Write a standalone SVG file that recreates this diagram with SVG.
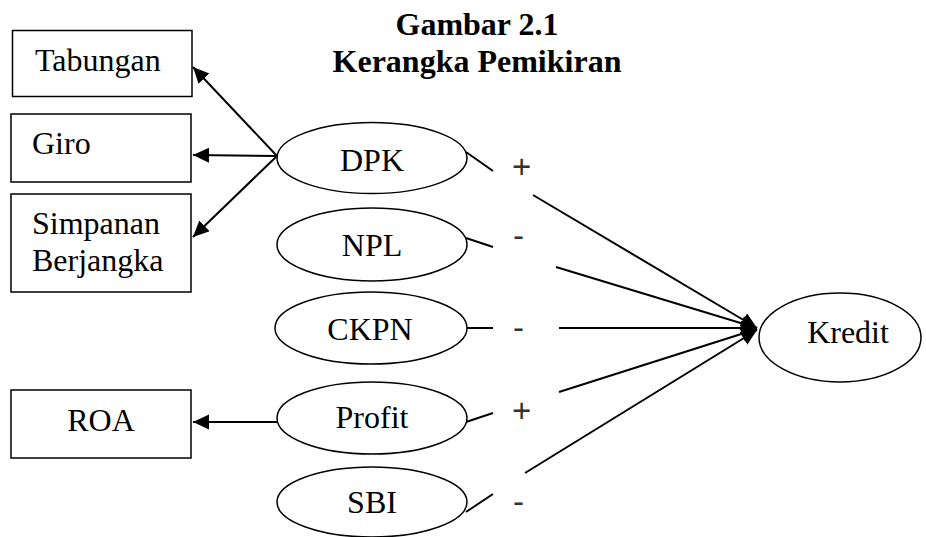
<svg xmlns="http://www.w3.org/2000/svg" width="926" height="537" viewBox="0 0 926 537">
<style>
  .box { fill: #fff; stroke: #000; stroke-width: 1.5; }
  .ell { fill: #fff; stroke: #000; stroke-width: 1.5; }
  .lbl { font-family: "Liberation Serif", "Times New Roman", serif; font-size: 32px; fill: #000; }
  .mid { text-anchor: middle; }
  .title { font-family: "Liberation Serif", "Times New Roman", serif; font-size: 32px; font-weight: bold; text-anchor: middle; fill: #000; }
  .edge { stroke: #000; stroke-width: 2; fill: none; }
  .sign { font-family: "Liberation Sans", Arial, sans-serif; font-size: 33px; fill: #333; }
</style>
<defs>
  <marker id="arr" markerUnits="userSpaceOnUse" markerWidth="20" markerHeight="20" refX="16" refY="7.5" orient="auto">
    <path d="M0,0 L16,7.5 L0,15 Z" fill="#000"/>
  </marker>
</defs>
<rect width="926" height="537" fill="#fff"/>
<g id="title">
  <text class="title" x="477" y="35">Gambar 2.1</text>
  <text class="title" x="477" y="72">Kerangka Pemikiran</text>
</g>
<g id="connectors">
  <line class="edge" x1="277" y1="156" x2="193" y2="67" marker-end="url(#arr)"/>
  <line class="edge" x1="277" y1="156" x2="193" y2="155" marker-end="url(#arr)"/>
  <line class="edge" x1="277" y1="156" x2="193" y2="237" marker-end="url(#arr)"/>
  <line class="edge" x1="277" y1="422" x2="193" y2="422" marker-end="url(#arr)"/>
  <line class="edge" x1="466" y1="152" x2="493" y2="171"/>
  <line class="edge" x1="533" y1="195" x2="757" y2="328" marker-end="url(#arr)"/>
  <line class="edge" x1="466" y1="238" x2="493" y2="247"/>
  <line class="edge" x1="556" y1="267" x2="757" y2="328" marker-end="url(#arr)"/>
  <line class="edge" x1="466" y1="328" x2="493" y2="328"/>
  <line class="edge" x1="559" y1="328" x2="757" y2="328" marker-end="url(#arr)"/>
  <line class="edge" x1="466" y1="422" x2="493" y2="413"/>
  <line class="edge" x1="559" y1="392" x2="757" y2="329" marker-end="url(#arr)"/>
  <line class="edge" x1="466" y1="512" x2="493" y2="494"/>
  <line class="edge" x1="525" y1="473" x2="757" y2="330" marker-end="url(#arr)"/>
  <text class="sign" x="512" y="178">+</text>
  <text class="sign" x="513" y="247">-</text>
  <text class="sign" x="513" y="339">-</text>
  <text class="sign" x="512" y="422">+</text>
  <text class="sign" x="513" y="513">-</text>
</g>
<g id="tabungan">
  <rect class="box" x="12.5" y="30.5" width="179.5" height="66"/>
  <text class="lbl" x="35" y="71">Tabungan</text>
</g>
<g id="giro">
  <rect class="box" x="11" y="114" width="180" height="68"/>
  <text class="lbl" x="32" y="154">Giro</text>
</g>
<g id="simpanan">
  <rect class="box" x="11" y="194" width="180" height="98"/>
  <text class="lbl" x="32" y="234">Simpanan</text>
  <text class="lbl" x="32" y="271">Berjangka</text>
</g>
<g id="roa">
  <rect class="box" x="11" y="390" width="180" height="68"/>
  <text class="lbl mid" x="101" y="431">ROA</text>
</g>
<g id="dpk">
  <ellipse class="ell" cx="372" cy="158" rx="95" ry="35.5"/>
  <text class="lbl mid" x="372" y="171">DPK</text>
</g>
<g id="npl">
  <ellipse class="ell" cx="372" cy="244.5" rx="95" ry="36.5"/>
  <text class="lbl mid" x="372" y="256">NPL</text>
</g>
<g id="ckpn">
  <ellipse class="ell" cx="371" cy="328" rx="96" ry="36"/>
  <text class="lbl mid" x="370" y="340">CKPN</text>
</g>
<g id="profit">
  <ellipse class="ell" cx="372" cy="418" rx="95" ry="36"/>
  <text class="lbl mid" x="372" y="428">Profit</text>
</g>
<g id="sbi">
  <ellipse class="ell" cx="372" cy="502" rx="95" ry="35"/>
  <text class="lbl mid" x="372" y="513">SBI</text>
</g>
<g id="kredit">
  <ellipse class="ell" cx="840" cy="337.5" rx="81" ry="44.5"/>
  <text class="lbl mid" x="848" y="343">Kredit</text>
</g>
</svg>
